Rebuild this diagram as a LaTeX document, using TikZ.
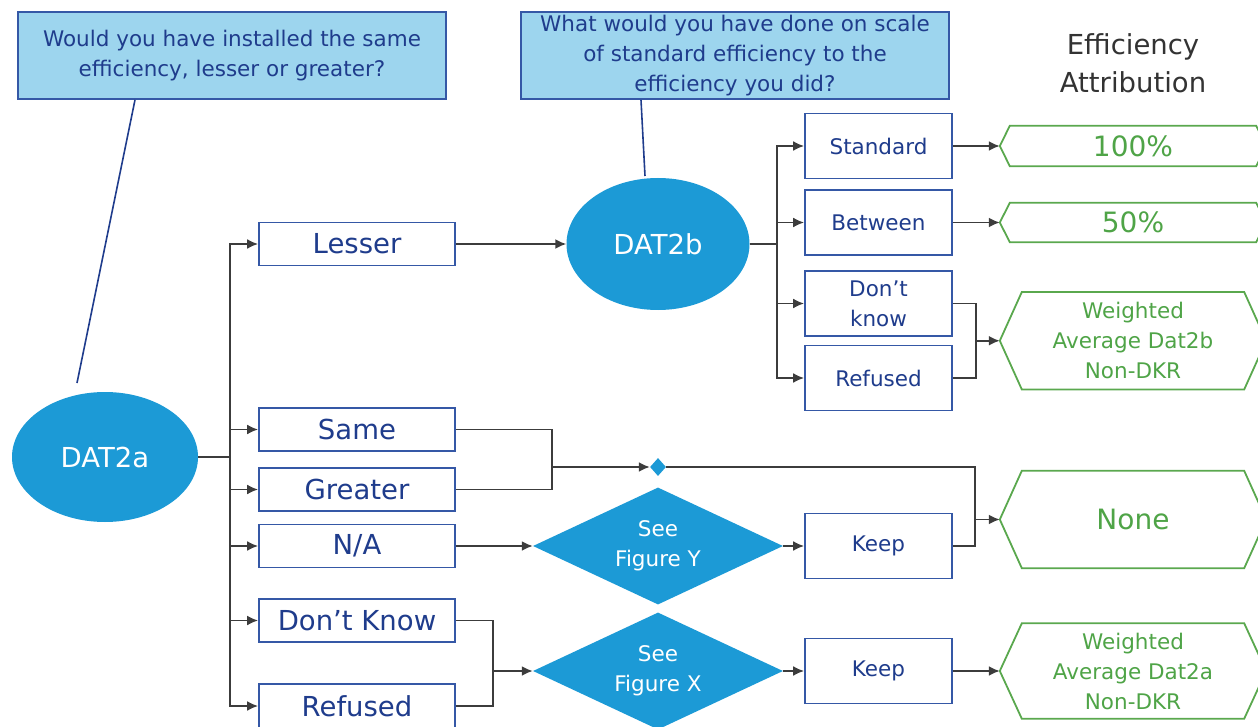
\documentclass[tikz,border=0pt]{standalone}
\usepackage{fontspec}
\setmainfont{DejaVu Sans}
\usetikzlibrary{arrows.meta,shapes.geometric}
\definecolor{qfill}{HTML}{9DD5EE}
\definecolor{bborder}{HTML}{3558A6}
\definecolor{btext}{HTML}{1F3C8C}
\definecolor{cblue}{HTML}{1C9AD6}
\definecolor{hgreen}{HTML}{5AA84E}
\definecolor{htext}{HTML}{4FA447}
\definecolor{conn}{HTML}{3C3C3C}
\definecolor{eatext}{HTML}{333333}
\begin{document}
\begin{tikzpicture}[x=1pt,y=-1pt,
  qbox/.style={draw=bborder,line width=1.8pt,fill=qfill,text=btext,font=\fontsize{21.5}{30}\selectfont,align=center,inner sep=0pt,minimum width=428pt,minimum height=87pt},
  abox/.style={draw=bborder,line width=1.8pt,fill=white,text=btext,font=\fontsize{27.5}{30}\selectfont,minimum width=196pt,minimum height=43pt,inner sep=0pt},
  sbox/.style={draw=bborder,line width=1.8pt,fill=white,text=btext,font=\fontsize{21.5}{30}\selectfont,align=center,minimum width=147pt,minimum height=65pt,inner sep=0pt},
  oval/.style={ellipse,fill=cblue,text=white,font=\fontsize{27.5}{30}\selectfont,inner sep=0pt},
  dia/.style={diamond,fill=cblue,text=white,font=\fontsize{21.5}{30}\selectfont,align=center,inner sep=0pt,aspect=2.14,minimum width=250pt,minimum height=117pt},
  hexnode/.style={inner sep=0pt,text=htext,align=center,minimum width=266pt},
  hexline/.style={draw=hgreen,line width=1.8pt},
  cn/.style={draw=conn,line width=1.9pt},
  arr/.style={cn,-{Latex[length=11pt,width=10pt]}},
  ptr/.style={draw=btext,line width=1.6pt}
]
\useasboundingbox (0,0) rectangle (1258,727);
\clip (0,0) rectangle (1258,727);

% question boxes
\node[qbox] (q1) at (232,55.5) {Would you have installed the same\\efficiency, lesser or greater?};
\node[qbox] (q2) at (735,55.5) {What would you have done on scale\\of standard efficiency to the\\efficiency you did?};
\node[font=\fontsize{27.5}{38}\selectfont,text=eatext,align=center] (ea) at (1133,63) {Efficiency\\Attribution};

% ovals
\node[oval,minimum width=186pt,minimum height=130pt] (dat2a) at (105,457) {DAT2a};
\node[oval,minimum width=183pt,minimum height=132pt] (dat2b) at (658,244) {DAT2b};

% pointer lines
\coordinate (p1) at (77,383);
\coordinate (p2) at (645,176);
\draw[ptr] ([xshift=-97pt]q1.south) -- (p1);
\draw[ptr] ([xshift=-94pt]q2.south) -- (p2);

% left answer boxes
\node[abox] (lesser) at (357,244) {Lesser};
\node[abox] (same) at (357,429.5) {Same};
\node[abox] (greater) at (357,489.5) {Greater};
\node[abox] (na) at (357,546) {N/A};
\node[abox] (dk) at (357,620.5) {Don’t Know};
\node[abox,minimum height=44pt] (ref) at (357,706) {Refused};

% right answer boxes
\node[sbox] (std) at (878.5,146) {Standard};
\node[sbox] (btw) at (878.5,222.5) {Between};
\node[sbox] (dk2) at (878.5,303.5) {Don’t\\know};
\node[sbox] (ref2) at (878.5,378) {Refused};
\node[sbox] (keep1) at (878.5,546) {Keep};
\node[sbox] (keep2) at (878.5,671) {Keep};

% diamonds
\node[dia] (dy) at (658,546) {See\\Figure Y};
\node[dia] (dx) at (658,671) {See\\Figure X};
\node[diamond,fill=cblue,inner sep=0pt,minimum width=16pt,minimum height=18pt] (sd) at (658,467) {};

% hexagons
\node[hexnode,minimum height=40pt,font=\fontsize{28}{30}\selectfont] (h100) at (1133,146) {100\%};
\node[hexnode,minimum height=39pt,font=\fontsize{28}{30}\selectfont] (h50) at (1133,222.5) {50\%};
\node[hexnode,minimum height=97pt,font=\fontsize{21.5}{30}\selectfont] (hwb) at (1133,340.75) {Weighted\\Average Dat2b\\Non-DKR};
\node[hexnode,minimum height=97pt,font=\fontsize{28}{30}\selectfont] (hnone) at (1133,519.5) {None};
\node[hexnode,minimum height=95pt,font=\fontsize{21.5}{30}\selectfont] (hwa) at (1133,671) {Weighted\\Average Dat2a\\Non-DKR};
\foreach \h/\i in {h100/10,h50/10,hwb/22,hnone/22,hwa/22}{
  \draw[hexline] (\h.west) -- ([xshift=\i pt]\h.north west) -- ([xshift=-\i pt]\h.north east) -- (\h.east) -- ([xshift=-\i pt]\h.south east) -- ([xshift=\i pt]\h.south west) -- cycle;
}

% DAT2a trunk
\coordinate (ta) at (230,457);
\draw[cn] (dat2a.east) -- (ta);
\foreach \b in {lesser,same,greater,na,dk,ref}{
  \draw[arr] (ta) |- (\b.west);
}
\draw[arr] (lesser.east) -- (dat2b.west);

% DAT2b trunk
\coordinate (tb) at (777,244);
\draw[cn] (dat2b.east) -- (tb);
\foreach \b in {std,btw,dk2,ref2}{
  \draw[arr] (tb) |- (\b.west);
}
\draw[arr] (std.east) -- (h100.west);
\draw[arr] (btw.east) -- (h50.west);
\coordinate (mb) at (976,340.75);
\draw[cn] (dk2.east) -| (mb);
\draw[cn] (ref2.east) -| (mb);
\draw[arr] (mb) -- (hwb.west);

% same / greater
\coordinate (mg) at (552,467);
\draw[cn] (same.east) -| (mg);
\draw[cn] (greater.east) -| (mg);
\draw[arr] (mg) -- (sd.west);
\coordinate (mn) at (975,519.5);
\draw[cn] (sd.east) -| (mn);
\draw[cn] (keep1.east) -| (mn);
\draw[arr] (mn) -- (hnone.west);

% N/A
\draw[arr] (na.east) -- (dy.west);
\draw[arr] (dy.east) -- (keep1.west);

% don't know / refused
\coordinate (md) at (493,671);
\draw[cn] (dk.east) -| (md);
\draw[cn] (ref.east) -| (md);
\draw[arr] (md) -- (dx.west);
\draw[arr] (dx.east) -- (keep2.west);
\draw[arr] (keep2.east) -- (hwa.west);
\end{tikzpicture}
\end{document}
